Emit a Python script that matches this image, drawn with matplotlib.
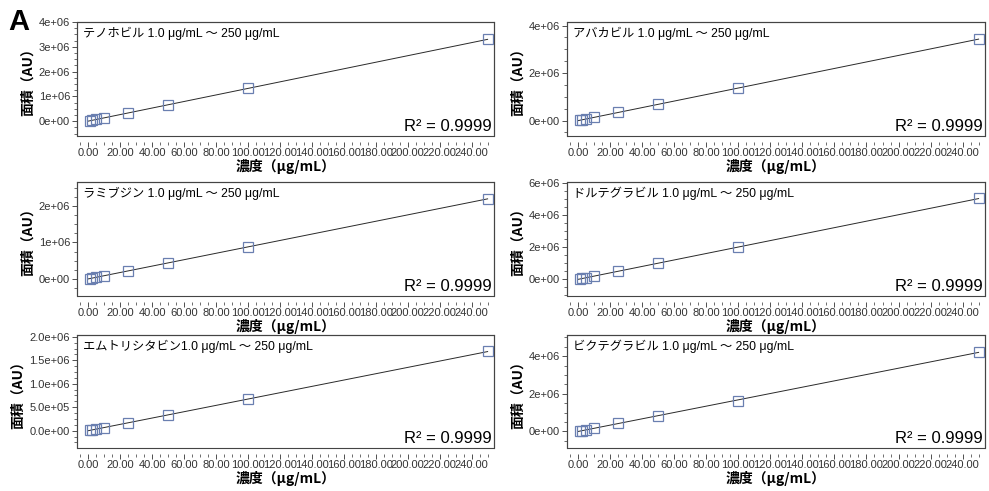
import numpy as np
import matplotlib
matplotlib.use("Agg")
import matplotlib.pyplot as plt
from matplotlib.ticker import MultipleLocator, AutoMinorLocator, FixedLocator, FixedFormatter
from matplotlib.patches import Rectangle

plt.rcParams['font.family'] = ['Liberation Sans', 'Noto Sans CJK JP', 'DejaVu Sans']

conc = [1.0, 2.5, 5.0, 10.0, 25.0, 50.0, 100.0, 250.0]

names = ["テノホビル 1.0 μg/mL ～ 250 μg/mL",
         "アバカビル 1.0 μg/mL ～ 250 μg/mL",
         "ラミブジン 1.0 μg/mL ～ 250 μg/mL",
         "ドルテグラビル 1.0 μg/mL ～ 250 μg/mL",
         "エムトリシタビン1.0 μg/mL ～ 250 μg/mL",
         "ビクテグラビル 1.0 μg/mL ～ 250 μg/mL"]

tenofovir = [1.32e4, 3.3e4, 6.6e4, 1.32e5, 3.3e5, 6.6e5, 1.32e6, 3.30e6]
abacavir = [1.37e4, 3.4e4, 6.8e4, 1.37e5, 3.4e5, 6.8e5, 1.37e6, 3.43e6]
lamivudine = [8.8e3, 2.2e4, 4.4e4, 8.8e4, 2.2e5, 4.4e5, 8.7e5, 2.20e6]
dolutegravir = [2.0e4, 5.0e4, 1.0e5, 2.0e5, 5.0e5, 1.0e6, 2.0e6, 5.06e6]
emtricitabine = [6.7e3, 1.7e4, 3.4e4, 6.7e4, 1.7e5, 3.35e5, 6.65e5, 1.69e6]
bictegravir = [1.68e4, 4.2e4, 8.4e4, 1.68e5, 4.2e5, 8.2e5, 1.64e6, 4.22e6]
series = [tenofovir, abacavir, lamivudine, dolutegravir, emtricitabine, bictegravir]

ylims = [(-0.6e6, 4.0e6), (-0.65e6, 4.15e6), (-0.47e6, 2.66e6),
         (-1.05e6, 6.09e6), (-0.37e6, 2.04e6), (-0.89e6, 5.13e6)]
yticks = [[0, 1e6, 2e6, 3e6, 4e6], [0, 2e6, 4e6], [0, 1e6, 2e6],
          [0, 2e6, 4e6, 6e6], [0, 5e5, 1e6, 1.5e6, 2e6], [0, 2e6, 4e6]]
yticklabels = [["0e+00", "1e+06", "2e+06", "3e+06", "4e+06"],
               ["0e+00", "2e+06", "4e+06"],
               ["0e+00", "1e+06", "2e+06"],
               ["0e+00", "2e+06", "4e+06", "6e+06"],
               ["0.0e+00", "5.0e+05", "1.0e+06", "1.5e+06", "2.0e+06"],
               ["0e+00", "2e+06", "4e+06"]]
xticks = list(range(0, 260, 20))[:13]
xticklabels = ["%.2f" % v for v in xticks]
r2 = ["R² = 0.9999"] * 6

W, H = 989, 491
fig = plt.figure(figsize=(W / 100, H / 100), dpi=100)

cols = [(77, 494), (567, 985)]
rows = [(22, 136), (182, 296), (335, 448)]

tick_color = '#333333'
for i in range(6):
    r, c = divmod(i, 2)
    x0, x1 = cols[c]
    y0, y1 = rows[r]
    ax = fig.add_axes([x0 / W, 1 - y1 / H, (x1 - x0) / W, (y1 - y0) / H])
    y = np.array(series[i])
    x = np.array(conc)
    p = np.polyfit(x, y, 1)
    xx = np.array([0.0, 250.0])
    ax.plot(xx, np.polyval(p, xx), color='#2a2a2a', lw=0.7, zorder=2)
    ax.plot(x, y, linestyle='none', marker='s', markersize=7, markerfacecolor='none',
            markeredgecolor='#6a7fb0', markeredgewidth=0.9, zorder=3)
    ax.set_xlim(-7, 254)
    ax.set_ylim(*ylims[i])
    ax.xaxis.set_major_locator(FixedLocator(xticks))
    ax.xaxis.set_major_formatter(FixedFormatter(xticklabels))
    ax.xaxis.set_minor_locator(MultipleLocator(5))
    ax.yaxis.set_major_locator(FixedLocator(yticks[i]))
    ax.yaxis.set_major_formatter(FixedFormatter(yticklabels[i]))
    ax.yaxis.set_minor_locator(AutoMinorLocator(4))
    for s in ['top', 'right', 'left']:
        ax.spines[s].set_linewidth(0.8)
        ax.spines[s].set_color('#444444')
    ax.spines['bottom'].set_position(('outward', 4))
    ax.spines['bottom'].set_visible(False)
    ax.add_patch(Rectangle((0, 0), 1, 1, transform=ax.transAxes, fill=False,
                           lw=0.8, edgecolor='#444444', clip_on=False, zorder=5))
    ax.tick_params(axis='both', which='major', labelsize=8, colors=tick_color,
                   length=3.5, width=0.6, pad=1.5)
    ax.tick_params(axis='both', which='minor', length=2, width=0.5, colors=tick_color)
    ax.tick_params(axis='x', which='both', direction='out')
    ax.set_xlabel("濃度（μg/mL）", fontsize=10, fontweight='bold', labelpad=0,
                  family=['Noto Sans CJK JP', 'Liberation Sans'])
    ax.set_ylabel("面積（AU）", fontsize=10, fontweight='bold', labelpad=3,
                  family=['Noto Sans CJK JP', 'Liberation Sans'])
    ax.text(0.015, 0.96, names[i], transform=ax.transAxes, ha='left', va='top',
            fontsize=8.8, family=['Liberation Sans', 'Noto Sans CJK JP'])
    ax.text(0.995, 0.02, r2[i], transform=ax.transAxes, ha='right', va='bottom',
            fontsize=12)

fig.text(8 / W, 1 - 8 / H, "A", fontsize=21, fontweight='bold', ha='left', va='top')

fig.savefig("out.png", dpi=100)
